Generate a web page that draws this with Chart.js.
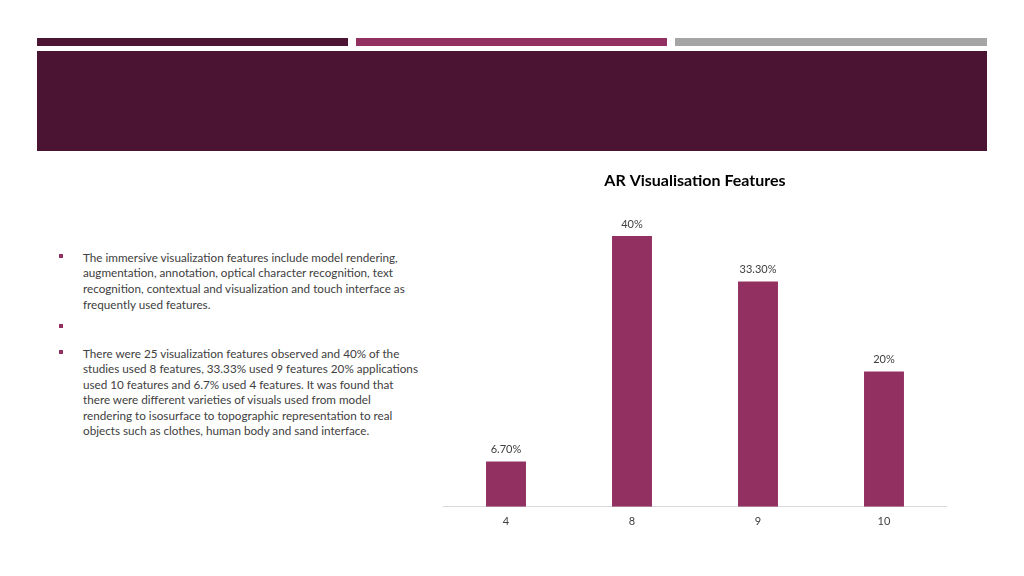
<!DOCTYPE html>
<html>
<head>
<meta charset="utf-8">
<script src="https://cdn.jsdelivr.net/npm/chart.js@4.4.0/dist/chart.umd.min.js"></script>
<style>
html,body{margin:0;padding:0;background:#fff;}
#slide{position:relative;width:1024px;height:576px;overflow:hidden;background:#fff;font-family:Lato,"Open Sans",sans-serif;}
.stripe{position:absolute;top:38px;height:8px;}
#band{position:absolute;left:37px;top:51px;width:950px;height:100px;background:#4b1432;}
#text{position:absolute;left:0;top:0;color:#404040;font-size:11.7px;}
.line{position:absolute;left:83px;white-space:nowrap;line-height:16px;}
.bullet{position:absolute;left:59px;width:4px;height:4px;background:#923062;}
#chartWrap{position:absolute;left:443px;top:160px;width:504px;height:380px;}
</style>
</head>
<body>
<div id="slide">
  <div class="stripe" style="left:37px;width:311px;background:#4b1432;"></div>
  <div class="stripe" style="left:356px;width:311px;background:#923062;"></div>
  <div class="stripe" style="left:675px;width:312px;background:#a5a5a5;"></div>
  <div id="band"></div>
  <div id="text">
    <div class="bullet" style="top:254px;"></div>
    <div class="line" style="top:248.5px;">The immersive visualization features include model rendering,</div>
    <div class="line" style="top:264.2px;">augmentation, annotation, optical character recognition, text</div>
    <div class="line" style="top:279.9px;">recognition, contextual and visualization and touch interface as</div>
    <div class="line" style="top:295.6px;">frequently used features.</div>
    <div class="bullet" style="top:324px;"></div>
    <div class="bullet" style="top:350px;"></div>
    <div class="line" style="top:344.5px;">There were 25 visualization features observed and 40% of the</div>
    <div class="line" style="top:360px;">studies used 8 features, 33.33% used 9 features 20% applications</div>
    <div class="line" style="top:375.5px;">used 10 features and 6.7% used 4 features. It was found that</div>
    <div class="line" style="top:391px;">there were different varieties of visuals used from model</div>
    <div class="line" style="top:406.5px;">rendering to isosurface to topographic representation to real</div>
    <div class="line" style="top:422px;">objects such as clothes, human body and sand interface.</div>
  </div>
  <div id="chartWrap"><canvas id="c"></canvas></div>
</div>
<script>
const categories = ['4', '8', '9', '10'];
const values = [6.7, 40, 33.3, 20];
const valueLabels = ['6.70%', '40%', '33.30%', '20%'];
const chartTitle = 'AR Visualisation Features';

const barLabelPlugin = {
  id: 'barLabels',
  afterDatasetsDraw(chart) {
    const ctx = chart.ctx;
    const meta = chart.getDatasetMeta(0);
    ctx.save();
    ctx.font = '11px Lato, "Open Sans", sans-serif';
    ctx.fillStyle = '#404040';
    ctx.textAlign = 'center';
    ctx.textBaseline = 'middle';
    meta.data.forEach((bar, i) => {
      ctx.fillText(valueLabels[i], bar.x, bar.y - 12);
    });
    ctx.restore();
  }
};

new Chart(document.getElementById('c'), {
  type: 'bar',
  data: {
    labels: categories,
    datasets: [{
      data: values,
      backgroundColor: '#923062',
      borderWidth: 0,
      categoryPercentage: 1,
      barPercentage: 0.317
    }]
  },
  options: {
    responsive: true,
    maintainAspectRatio: false,
    animation: false,
    layout: { padding: { left: 0, right: 0, top: 0, bottom: 4 } },
    plugins: {
      legend: { display: false },
      tooltip: { enabled: false },
      title: {
        display: true,
        text: chartTitle,
        color: '#000',
        font: { family: 'Lato, "Open Sans", sans-serif', size: 16, weight: 'bold', lineHeight: 1.2 },
        padding: { top: 11, bottom: 12 }
      }
    },
    scales: {
      x: {
        grid: { display: false, drawTicks: false },
        border: { display: true, color: '#d9d9d9', width: 1 },
        ticks: { color: '#404040', font: { family: 'Lato, "Open Sans", sans-serif', size: 11 }, padding: 8 }
      },
      y: {
        display: false,
        min: 0,
        max: 45
      }
    }
  },
  plugins: [barLabelPlugin]
});
</script>
</body>
</html>
